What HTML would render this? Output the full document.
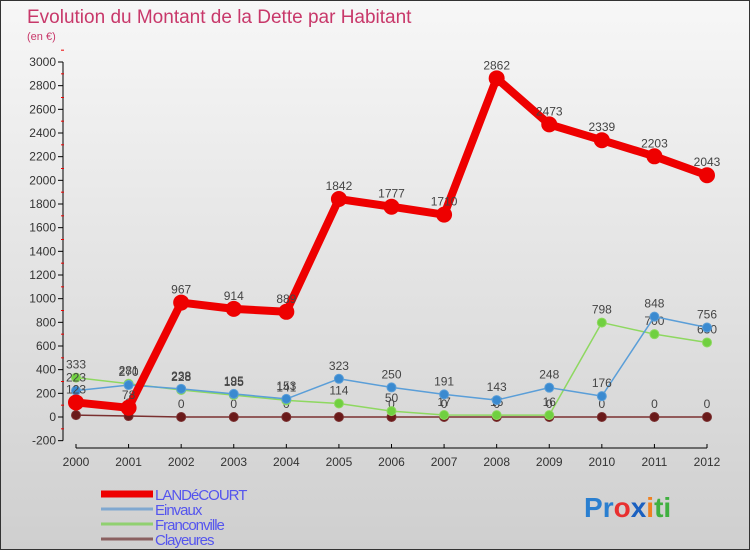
<!DOCTYPE html>
<html><head><meta charset="utf-8"><style>
body{margin:0}
#c{width:748px;height:548px;border:1px solid #333;background:linear-gradient(#f7f7f7,#cfcfcf);position:relative;font-family:"Liberation Sans",sans-serif;overflow:hidden}
svg text{font-family:"Liberation Sans",sans-serif}
</style></head><body>
<div id="c">
<svg id="s" width="748" height="548">
<text x="26" y="22" font-size="19" fill="#c8386a">Evolution du Montant de la Dette par Habitant</text>
<text x="26" y="39" font-size="11" fill="#c8386a">(en €)</text>
<g id="axes"></g><g id="series"></g><g id="legend"></g>
<text x="583" y="516" font-size="28" font-weight="bold"><tspan fill="#2a7fd0">P</tspan><tspan fill="#2a7fd0">r</tspan><tspan fill="#e83030">o</tspan><tspan fill="#1a60c0">x</tspan><tspan fill="#f08020">i</tspan><tspan fill="#40b040">t</tspan><tspan fill="#40b040">i</tspan></text>
</svg></div>
<script>
const years=[2000,2001,2002,2003,2004,2005,2006,2007,2008,2009,2010,2011,2012];
const landecourt=[123,78,967,914,889,1842,1777,1710,2862,2473,2339,2203,2043];
const einvaux=[223,270,238,195,153,323,250,191,143,248,176,848,756];
const franconville=[333,281,228,185,141,114,50,17,16,16,798,700,630];
const clayeures=[16,8,0,0,0,0,0,0,0,0,0,0,0];
const yTicks=[-200,0,200,400,600,800,1000,1200,1400,1600,1800,2000,2200,2400,2600,2800,3000];
const NS="http://www.w3.org/2000/svg";
const X=i=>75+i*(706-75)/(years.length-1);
const Y=v=>416-v*(416-61)/3000;
function mk(p,t,a){const e=document.createElementNS(NS,t);for(const k in a)e.setAttribute(k,a[k]);p.appendChild(e);return e;}
const ax=document.getElementById('axes');
let l=mk(ax,'line',{x1:62,y1:Y(3000),x2:62,y2:Y(-200),stroke:'#000'});

l=mk(ax,'line',{x1:75,y1:447,x2:706,y2:447,stroke:'#000'});

yTicks.forEach(v=>{
 mk(ax,'line',{x1:57,x2:62,y1:Y(v),y2:Y(v),stroke:'#000'});
 mk(ax,'line',{x1:60,x2:63,y1:Y(v+100),y2:Y(v+100),stroke:'#e00'});
 const t=mk(ax,'text',{x:55,y:Y(v)+4,'text-anchor':'end','font-size':12,fill:'#333'});t.textContent=v;
 
});
years.forEach((y,i)=>{
 mk(ax,'line',{x1:X(i),x2:X(i),y1:443,y2:447,stroke:'#000'});
 const t=mk(ax,'text',{x:X(i),y:465,'text-anchor':'middle','font-size':12,fill:'#333'});t.textContent=y;
 
});
const sg=document.getElementById('series');
function series(name,data,col,w,r,dot){
 const g=mk(sg,'g',{});
 mk(g,'polyline',{points:data.map((v,i)=>X(i)+','+Y(v)).join(' '),fill:'none',stroke:col,'stroke-width':w,'stroke-linejoin':'round'});
 data.forEach((v,i)=>{
  const c=mk(g,'circle',{cx:X(i),cy:Y(v),r:r,fill:dot,stroke:col});
  
  const t=mk(g,'text',{x:X(i),y:Y(v)-9,'text-anchor':'middle','font-size':12,fill:'#444'});t.textContent=v;
  
 });
}
series('clayeures',clayeures,'#7a3030',1.5,4.5,'#6a1a1a');
series('franconville',franconville,'#8ed860',1.5,4.5,'#70d040');
series('einvaux',einvaux,'#5a9ed8',1.5,4.5,'#3a8ad0');
series('landecourt',landecourt,'#ee0000',8,7.5,'#ee0000');
const lg=document.getElementById('legend');
[['LANDéCOURT','#ee0000',7],['Einvaux','#80a8d0',3],['Franconville','#90d070',3],['Clayeures','#8a6060',3]].forEach((e,i)=>{
 const y=493+i*15;
 const g=mk(lg,'g',{});
 mk(g,'line',{x1:100,x2:152,y1:y,y2:y,stroke:e[1],'stroke-width':e[2]});
 const t=mk(g,'text',{x:154,y:y+6,'font-size':15,fill:'#5555ee','letter-spacing':'-1'});t.textContent=e[0];
});
</script></body></html>
